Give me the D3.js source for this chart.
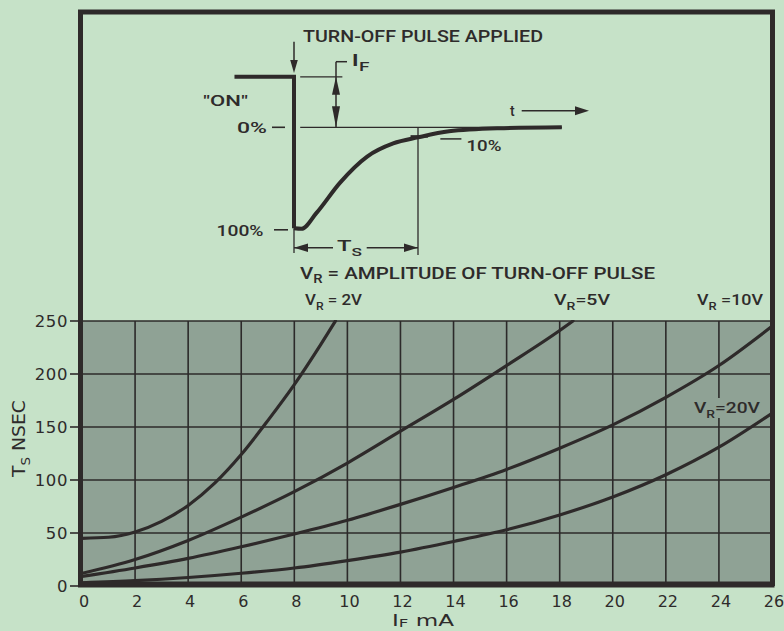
<!DOCTYPE html>
<html>
<head>
<meta charset="utf-8">
<script src="https://cdn.jsdelivr.net/npm/d3@7"></script>
<style>
  html, body { margin: 0; padding: 0; background: #c6e2c8; }
  svg { display: block; }
  text { fill: #2e2b2b; }
</style>
</head>
<body>
<svg id="chart" width="784" height="631"></svg>
<script>
// ---------------- DATA ----------------
const xTicks = [0, 2, 4, 6, 8, 10, 12, 14, 16, 18, 20, 22, 24, 26];
const yTicks = [0, 50, 100, 150, 200, 250];

const iF2V = [0, 1, 2, 3, 4, 5, 6, 7, 8, 9, 9.55];
const ts2V = [45, 46, 51, 61, 76, 97, 124, 156, 190, 228, 250];

const iF5V = [0, 2, 4, 6, 8, 10, 12, 14, 16, 18, 18.5];
const ts5V = [12, 25, 43, 65, 89, 116, 146, 176, 208, 241, 250];

const iFAll = [0, 2, 4, 6, 8, 10, 12, 14, 16, 18, 20, 22, 24, 26];
const ts10V = [9, 17, 26, 37, 49, 62, 77, 93, 110, 130, 152, 178, 208, 245];
const ts20V = [3, 5, 8, 12, 17, 24, 32, 42, 53, 67, 84, 105, 131, 163];

// inset waveform (schematic): time units, percent of reverse current
const pulseT = [-4.8, 0, 0];
const pulsePct = [-50, -50, 100];
const recT = [0, 0.6, 1.8, 3.7, 5.9, 8.0, 10, 12.5, 16.5, 21.6];
const recPct = [100, 100.5, 85, 55, 29, 16, 10, 4, 1, 0];

// ---------------- SETUP ----------------
const svg = d3.select("#chart");
const INK = "#2e2a2a";
const PLOT = "#8fa295";
const FONT = "'DejaVu Sans', sans-serif";
const LFONT = "Roboto, 'Liberation Sans', sans-serif";

const x = d3.scaleLinear().domain([0, 26]).range([82, 772]);
const y = d3.scaleLinear().domain([0, 250]).range([586, 321]);

// plot background
svg.append("rect")
  .attr("x", x(0)).attr("y", y(250))
  .attr("width", x(26) - x(0)).attr("height", y(0) - y(250))
  .attr("fill", PLOT);

// grid
const grid = svg.append("g").attr("stroke", "#2c2a2a").attr("stroke-width", 1.6);
grid.selectAll("line.v").data(xTicks.slice(1, -1)).join("line")
  .attr("x1", d => x(d)).attr("x2", d => x(d))
  .attr("y1", y(0)).attr("y2", y(250));
grid.selectAll("line.h").data(yTicks.slice(1)).join("line")
  .attr("x1", x(0)).attr("x2", x(26))
  .attr("y1", d => y(d)).attr("y2", d => y(d));

// 20V label knockout (gap in grid)
svg.append("rect").attr("x", 692).attr("y", 398).attr("width", 70).attr("height", 20).attr("fill", PLOT);

// clip
svg.append("clipPath").attr("id", "plotclip").append("rect")
  .attr("x", x(0)).attr("y", y(250) - 1).attr("width", x(26) - x(0)).attr("height", y(0) - y(250) + 1);

const line = d3.line().x(d => x(d[0])).y(d => y(d[1])).curve(d3.curveMonotoneX);
const curves = [
  d3.zip(iF2V, ts2V),
  d3.zip(iF5V, ts5V),
  d3.zip(iFAll, ts10V),
  d3.zip(iFAll, ts20V)
];
svg.append("g").attr("clip-path", "url(#plotclip)")
  .selectAll("path").data(curves).join("path")
  .attr("d", line)
  .attr("fill", "none").attr("stroke", INK).attr("stroke-width", 3.2)
  .attr("stroke-linecap", "round");

// frame
const frame = svg.append("g").attr("stroke", INK).attr("fill", "none");
frame.append("path").attr("d", `M${x(0) - 1.5},${y(0)} V12 H772.5 V${y(0)}`)
  .attr("stroke-width", 5).attr("stroke-linejoin", "miter");
frame.append("line").attr("x1", x(0) - 4).attr("x2", x(26) + 2.5)
  .attr("y1", y(0) - 1.5).attr("y2", y(0) - 1.5).attr("stroke-width", 6);

// y axis ticks + labels
const yAx = svg.append("g");
yAx.selectAll("line").data(yTicks).join("line")
  .attr("x1", 70).attr("x2", 80).attr("y1", d => y(d)).attr("y2", d => y(d))
  .attr("stroke", INK).attr("stroke-width", 1.6);
yAx.selectAll("text").data(yTicks).join("text")
  .attr("x", 68).attr("y", d => y(d)).attr("dy", "0.36em")
  .attr("text-anchor", "end").attr("font-family", FONT).attr("font-size", 16.5)
  .attr("letter-spacing", 0.6)
  .text(d => d);

// x axis labels
svg.append("g").selectAll("text").data(xTicks).join("text")
  .attr("x", d => x(d) + 2).attr("y", 607)
  .attr("text-anchor", "middle").attr("font-family", FONT).attr("font-size", 16)
  .text(d => d);

// helper for subscripted text
function subText(g, xx, yy, parts, size, opts = {}) {
  const t = g.append("text").attr("x", xx).attr("y", yy)
    .attr("font-family", opts.family || LFONT).attr("font-size", size)
    .attr("font-weight", opts.weight || 500);
  if (opts.anchor) t.attr("text-anchor", opts.anchor);
  if (opts.transform) t.attr("transform", opts.transform);
  const drop = opts.drop !== undefined ? opts.drop : size * 0.3;
  let shifted = false;
  parts.forEach(([s, sub]) => {
    const sp = t.append("tspan").text(s);
    if (sub && !shifted) { sp.attr("dy", drop).attr("font-size", size * 0.72); shifted = true; }
    else if (!sub && shifted) { sp.attr("dy", -drop); shifted = false; }
  });
  if (opts.len) t.attr("textLength", opts.len).attr("lengthAdjust", "spacingAndGlyphs");
  return t;
}

// axis titles
subText(svg, 392, 626, [["I", false], ["F", true], [" mA", false]], 15, { family: FONT, weight: 400, len: 62, drop: 1 });
subText(svg, 0, 0, [["T", false], ["S", true], [" NSEC", false]], 17,
  { family: FONT, weight: 400, transform: "translate(25,477) rotate(-90)", len: 77 });

// curve labels
subText(svg, 305, 305, [["V", false], ["R", true], [" = 2V", false]], 15.5, { len: 57 });
subText(svg, 554, 305, [["V", false], ["R", true], ["=5V", false]], 15.5, { len: 56 });
subText(svg, 697, 305, [["V", false], ["R", true], [" =10V", false]], 15.5, { len: 66 });
subText(svg, 694, 413, [["V", false], ["R", true], ["=20V", false]], 15.5, { len: 66 });

// ---------------- INSET DIAGRAM ----------------
const tX = d3.scaleLinear().domain([0, 10]).range([294, 418]);
const pY = d3.scaleLinear().domain([0, 100]).range([127.3, 228.3]);
const inset = svg.append("g");

function arrowHead(g, tipX, tipY, dir, len = 14, half = 4.2) {
  let p;
  if (dir === "down") p = [[tipX, tipY], [tipX - half, tipY - len], [tipX + half, tipY - len]];
  if (dir === "up") p = [[tipX, tipY], [tipX - half, tipY + len], [tipX + half, tipY + len]];
  if (dir === "left") p = [[tipX, tipY], [tipX + len, tipY - half], [tipX + len, tipY + half]];
  if (dir === "right") p = [[tipX, tipY], [tipX - len, tipY - half], [tipX - len, tipY + half]];
  g.append("path").attr("d", "M" + p.join("L") + "Z").attr("fill", INK);
}
function thin(g, x1, y1, x2, y2, w = 1.3) {
  g.append("line").attr("x1", x1).attr("y1", y1).attr("x2", x2).attr("y2", y2)
    .attr("stroke", INK).attr("stroke-width", w);
}

// thin reference lines
thin(inset, tX(0.5), pY(0), tX(21.6), pY(0));            // 0% line
thin(inset, tX(0.5), pY(-50), tX(3.9), pY(-50));          // ON extension
thin(inset, tX(10), pY(0), tX(10), 255);                  // Ts end marker
thin(inset, tX(0), pY(100), tX(0), 253);                  // Ts start marker

// waveform
const wline = d3.line().x(d => tX(d[0])).y(d => pY(d[1]));
inset.append("path").datum(d3.zip(pulseT, pulsePct)).attr("d", wline)
  .attr("fill", "none").attr("stroke", INK).attr("stroke-width", 4).attr("stroke-linejoin", "miter");
inset.append("path").datum(d3.zip(recT, recPct)).attr("d", wline.curve(d3.curveMonotoneX))
  .attr("fill", "none").attr("stroke", INK).attr("stroke-width", 4).attr("stroke-linecap", "butt");

// 10% tick
thin(inset, tX(9.4), pY(10) - 1, tX(10.8), pY(10) - 1, 2.5);
thin(inset, tX(11.8), pY(10) + 1.5, tX(13.5), pY(10) + 1.5, 1.5);

// turn-off arrow
thin(inset, tX(0), 41.7, tX(0), 62, 1.5);
arrowHead(inset, tX(0), 73, "down", 13, 3.8);

// I_F dimension
thin(inset, 336, 61.7, 336, 127, 1.5);
thin(inset, 336, 61.7, 347, 61.7, 1.5);
arrowHead(inset, 336, pY(-50), "up", 18, 4);
arrowHead(inset, 336, pY(0), "down", 21, 4);

// t arrow
thin(inset, 521.7, 110.7, 576, 110.7, 1.6);
arrowHead(inset, 589, 110.7, "right", 14, 4.5);
inset.append("text").attr("x", 510).attr("y", 116).attr("font-family", LFONT)
  .attr("font-size", 14).attr("font-weight", 500).text("t");

// Ts dimension
thin(inset, tX(0), 247.7, 333, 247.7, 1.5);
thin(inset, 366.7, 247.7, tX(10), 247.7, 1.5);
arrowHead(inset, tX(0), 247.7, "left", 14, 4.2);
arrowHead(inset, tX(10), 247.7, "right", 14, 4.2);
subText(inset, 337, 251, [["T", false], ["S", true]], 15, { len: 25 });

// percent labels
inset.append("text").attr("x", 237).attr("y", 133).attr("font-family", LFONT)
  .attr("font-size", 15.5).attr("font-weight", 500).attr("textLength", 30).attr("lengthAdjust", "spacingAndGlyphs").text("0%");
thin(inset, 272, pY(0), 285, pY(0), 1.6);
inset.append("text").attr("x", 216.5).attr("y", 235.5).attr("font-family", LFONT)
  .attr("font-size", 15.5).attr("font-weight", 500).attr("textLength", 47).attr("lengthAdjust", "spacingAndGlyphs").text("100%");
thin(inset, 274, pY(100) + 1.5, 288, pY(100) + 1.5, 1.6);
inset.append("text").attr("x", 466.5).attr("y", 150.5).attr("font-family", LFONT)
  .attr("font-size", 15.5).attr("font-weight", 500).attr("textLength", 35).attr("lengthAdjust", "spacingAndGlyphs").text("10%");

// "ON"
inset.append("text").attr("x", 203).attr("y", 106).attr("font-family", LFONT)
  .attr("font-size", 15.5).attr("font-weight", 500).attr("textLength", 45).attr("lengthAdjust", "spacingAndGlyphs").text("\"ON\"");

// I_F label
subText(inset, 351.5, 66, [["I", false], ["F", true]], 17, { len: 18 });

// titles
inset.append("text").attr("x", 303).attr("y", 41.5).attr("font-family", LFONT)
  .attr("font-size", 16.5).attr("font-weight", 500)
  .attr("textLength", 240).attr("lengthAdjust", "spacingAndGlyphs")
  .text("TURN-OFF PULSE APPLIED");
subText(inset, 300, 278.5, [["V", false], ["R", true], [" = AMPLITUDE OF TURN-OFF PULSE", false]], 16.5, { len: 355 });
</script>
</body>
</html>
